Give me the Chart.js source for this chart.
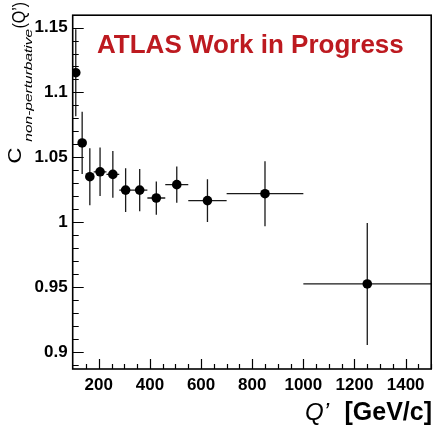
<!DOCTYPE html>
<html>
<head>
<meta charset="utf-8">
<script src="https://cdn.jsdelivr.net/npm/chart.js@4.4.1/dist/chart.umd.min.js"></script>
<style>
  html, body { margin: 0; padding: 0; background: #fff; overflow: hidden; }
  #wrap { position: relative; width: 436px; height: 426px; }
</style>
</head>
<body>
<div id="wrap"><canvas id="chart"></canvas></div>
<script>
// bin centres, edges and values
const binCenters = [110, 135, 165, 205, 255, 305, 360, 425, 505, 625, 850, 1250];
const binLow     = [100, 120, 150, 180, 230, 280, 330, 390, 460, 550, 700, 1000];
const binHigh    = [120, 150, 180, 230, 280, 330, 390, 460, 550, 700, 1000, 1500];
const cValues    = [1.1152, 1.0611, 1.0351, 1.0389, 1.0369, 1.0248, 1.0248, 1.0187, 1.029, 1.0167, 1.022, 0.9525];
const cErrors    = [0.0335, 0.024, 0.022, 0.0187, 0.018, 0.0168, 0.0163, 0.0128, 0.014, 0.0164, 0.025, 0.047];

const xTickValues = [200, 400, 600, 800, 1000, 1200, 1400];
const yTickValues = [0.9, 0.95, 1, 1.05, 1.1, 1.15];
const yTickLabels = ['0.9', '0.95', '1', '1.05', '1.1', '1.15'];

const points = binCenters.map((x, i) => ({ x: x, y: cValues[i] }));
const FONT = '"Liberation Sans", Arial, sans-serif';

// error bars drawn through the chart scales
const errorBars = {
  id: 'errorBars',
  beforeDatasetsDraw(chart) {
    const ctx = chart.ctx;
    const xs = chart.scales.x, ys = chart.scales.y;
    ctx.save();
    ctx.strokeStyle = '#1a1a1a';
    ctx.lineWidth = 1.3;
    binCenters.forEach((x, i) => {
      const px = xs.getPixelForValue(x);
      const py = ys.getPixelForValue(cValues[i]);
      ctx.beginPath();
      ctx.moveTo(xs.getPixelForValue(binLow[i]), py);
      ctx.lineTo(xs.getPixelForValue(binHigh[i]), py);
      ctx.moveTo(px, ys.getPixelForValue(cValues[i] + cErrors[i]));
      ctx.lineTo(px, ys.getPixelForValue(cValues[i] - cErrors[i]));
      ctx.stroke();
    });
    ctx.restore();
  }
};

// rotated text, a bit squeezed across its baseline like the ROOT output
function drawUp(ctx, text, font, xBase, yStart, across) {
  ctx.save();
  ctx.translate(xBase, yStart);
  ctx.rotate(-Math.PI / 2);
  ctx.scale(1, across);
  ctx.font = font;
  ctx.textAlign = 'left';
  ctx.textBaseline = 'alphabetic';
  ctx.fillText(text, 0, 0);
  ctx.restore();
}

// ROOT-style frame, inward ticks and the extra labels
const frameAndText = {
  id: 'frameAndText',
  afterDraw(chart) {
    const ctx = chart.ctx;
    const a = chart.chartArea;
    const xs = chart.scales.x, ys = chart.scales.y;
    ctx.save();
    ctx.strokeStyle = '#000';
    ctx.lineWidth = 1.6;
    ctx.strokeRect(a.left, a.top, a.right - a.left, a.bottom - a.top);

    ctx.lineWidth = 1.2;
    ctx.beginPath();
    for (let v = 150; v <= 1500; v += 50) {
      const px = Math.round(xs.getPixelForValue(v)) + 0.5;
      const len = (v % 200 === 0) ? 10 : 5;
      ctx.moveTo(px, a.bottom);
      ctx.lineTo(px, a.bottom - len);
    }
    for (let k = 89; k <= 115; k++) {
      const py = Math.round(ys.getPixelForValue(k / 100)) + 0.5;
      const len = (k % 5 === 0) ? 11 : 6;
      ctx.moveTo(a.left, py);
      ctx.lineTo(a.left + len, py);
    }
    ctx.stroke();

    // ATLAS label
    ctx.fillStyle = '#bd1a20';
    ctx.font = 'bold 26px ' + FONT;
    ctx.textAlign = 'left';
    ctx.textBaseline = 'alphabetic';
    ctx.fillText('ATLAS Work in Progress', 97, 53);

    // x title: Q' [GeV/c]
    ctx.fillStyle = '#000';
    ctx.font = 'bold 25px ' + FONT;
    ctx.textAlign = 'right';
    ctx.fillText('[GeV/c]', 432, 420);
    ctx.font = 'italic 24px ' + FONT;
    ctx.textAlign = 'left';
    ctx.fillText('Q\u2019', 305, 420);

    // y title: C_{non-perturbative}(Q')
    drawUp(ctx, 'C', '22px ' + FONT, 21, 163.5, 0.82);
    drawUp(ctx, 'non-perturbative', 'italic 15.5px ' + FONT, 32, 141.7, 0.75);
    drawUp(ctx, '(Q\u2019)', '16px ' + FONT, 24.6, 28.5, 1.1);
    ctx.restore();
  }
};

new Chart(document.getElementById('chart'), {
  type: 'scatter',
  data: {
    datasets: [{
      data: points,
      backgroundColor: '#000',
      borderColor: '#000',
      pointRadius: 4.8,
      pointHoverRadius: 4.8,
      borderWidth: 0
    }]
  },
  options: {
    responsive: true,
    maintainAspectRatio: false,
    animation: false,
    layout: { padding: { top: 9.5, right: 2, left: 0, bottom: 0 } },
    plugins: { legend: { display: false }, tooltip: { enabled: false } },
    scales: {
      x: {
        type: 'linear',
        min: 98,
        max: 1500,
        grid: { display: false, drawTicks: false },
        border: { display: false },
        afterBuildTicks(scale) { scale.ticks = xTickValues.map(v => ({ value: v })); },
        afterFit(scale) { scale.height = 57; },
        ticks: {
          padding: 6,
          color: '#000',
          maxRotation: 0,
          autoSkip: false,
          font: { family: FONT, size: 17, weight: 'bold' },
          callback: v => String(v)
        }
      },
      y: {
        type: 'linear',
        min: 0.887,
        max: 1.1595,
        grid: { display: false, drawTicks: false },
        border: { display: false },
        afterBuildTicks(scale) { scale.ticks = yTickValues.map(v => ({ value: v })); },
        afterFit(scale) { scale.width = 72.7; },
        ticks: {
          padding: 5,
          color: '#000',
          autoSkip: false,
          font: { family: FONT, size: 17, weight: 'bold' },
          callback: (v, i) => yTickLabels[i]
        }
      }
    }
  },
  plugins: [errorBars, frameAndText]
});
</script>
</body>
</html>
